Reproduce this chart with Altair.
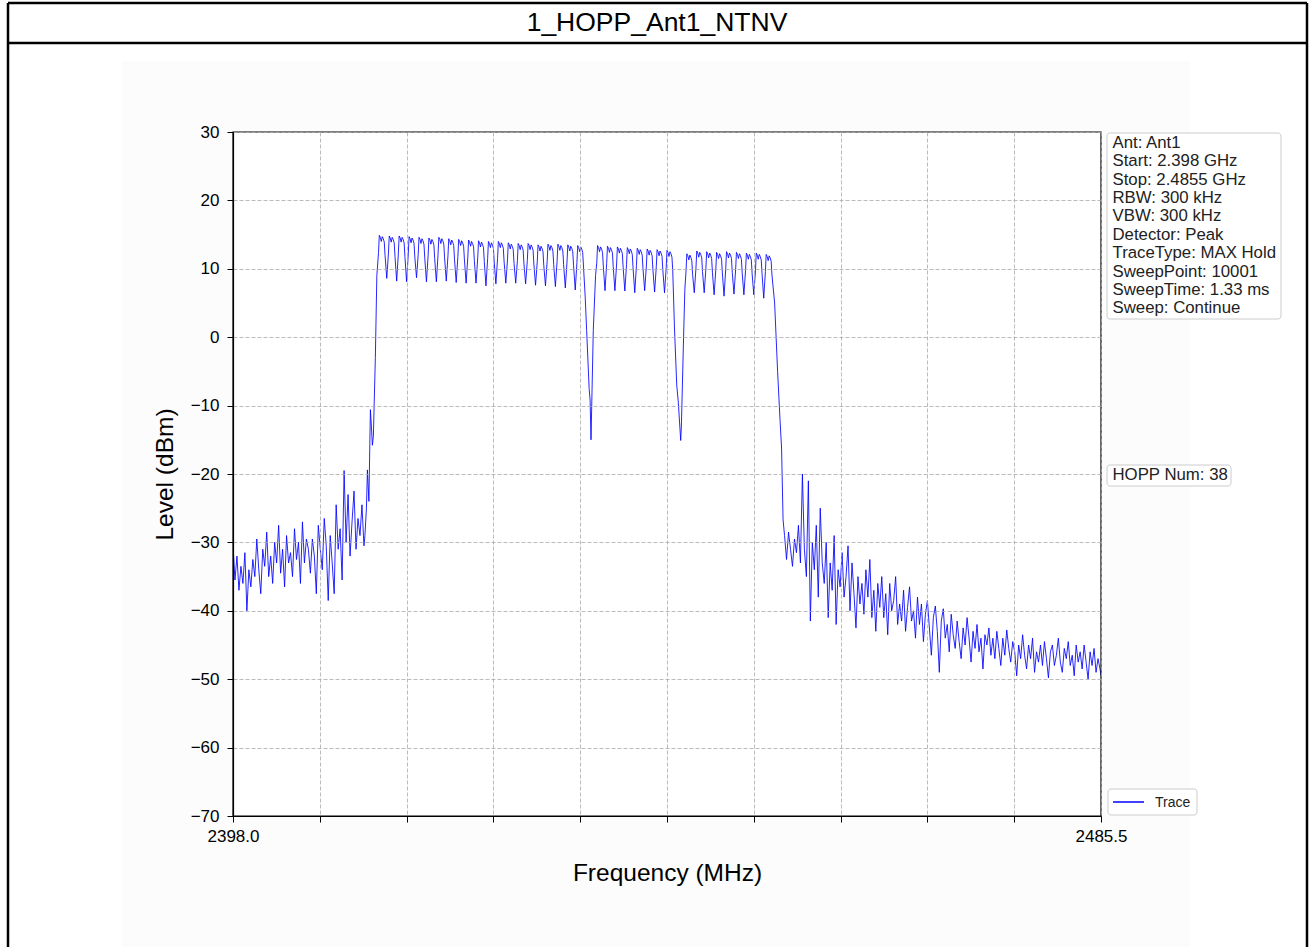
import altair as alt
import pandas as pd
import numpy as np

# ---------------- data ----------------
# occupied hopping channels (MHz), 3 blocks
block1 = [2413, 2414, 2415, 2416, 2417, 2418, 2419, 2420, 2421, 2422, 2423,
          2424, 2425, 2426, 2427, 2428, 2429, 2430, 2431, 2432, 2433]
block2 = [2435, 2436, 2437, 2438, 2439, 2440, 2441, 2442]
block3 = [2444, 2445, 2446, 2447, 2448, 2449, 2450, 2451, 2452]

peak1 = [14.9, 14.8, 14.8, 14.7, 14.6, 14.5, 14.6, 14.4, 14.3, 14.2, 14.1,
         14.0, 14.0, 13.8, 13.7, 13.7, 13.5, 13.6, 13.6, 13.5, 13.4]
peak2 = [13.4, 13.3, 13.2, 13.1, 13.0, 12.9, 12.8, 12.7]
peak3 = [12.2, 12.6, 12.5, 12.4, 12.5, 12.4, 12.3, 12.3, 12.1]

dip1 = [8.6, 8.2, 8.1, 8.7, 8.1, 8.1, 8.2, 8.0, 7.9, 7.9, 7.5, 7.8, 7.9, 7.9,
        7.8, 7.6, 7.5, 7.4, 7.2, 6.9]
dip2 = [6.8, 6.8, 6.75, 6.5, 6.8, 6.6, 6.5]
dip3 = [6.5, 6.5, 6.2, 6.0, 6.3, 6.2, 6.2, 5.7]

# shape of one channel top (offset MHz from centre, dB below peak)
top_off = [-0.33, -0.25, -0.15, -0.05, 0.05, 0.15, 0.25, 0.33]
top_drop = [2.5, 0.0, 0.3, 0.9, 0.2, 0.5, 1.0, 3.0]

# empty channels inside the band
gap1_f = [2433.5, 2433.65, 2433.9, 2434.0, 2434.09, 2434.32, 2434.55]
gap1_v = [6.0, 1.0, -7.5, -9.2, -15.0, 1.0, 9.0]
gap2_f = [2442.5, 2442.73, 2442.89, 2443.13, 2443.2, 2443.42, 2443.55]
gap2_v = [1.5, -7.0, -9.5, -15.1, -13.0, 0.0, 7.0]

# band edges
edgeL_f = [2411.3, 2411.45, 2411.55, 2411.7, 2411.85, 2411.95, 2412.05, 2412.15, 2412.35, 2412.5]
edgeL_v = [-29.0, -25.0, -19.4, -24.0, -10.6, -13.0, -15.8, -14.5, -3.0, 9.0]
edgeR_f = [2452.6, 2452.9, 2453.14, 2453.3, 2453.45]
edgeR_v = [5.0, -5.0, -12.0, -16.2, -26.7]

# noise floor below the band, 2398.0 .. 2411.2 MHz every 0.2 MHz
noiseL_start, noiseL_step = 2398.0, 0.2
noiseL = [-30.5, -35.5, -32, -37, -33.5, -36, -31.5, -40, -34, -36.5,
          -32.5, -35, -29.5, -34, -37.5, -31, -33.5, -28.5, -35, -32,
          -36, -30, -33, -27.5, -34.5, -31, -36.5, -29, -33, -31.5,
          -35, -28, -32.5, -30, -36, -27, -33, -29.5, -31, -34.5,
          -29.5, -32, -37.5, -27.5, -31, -34, -26.5, -30.5, -38.5, -29,
          -33, -37.5, -24.5, -31, -28, -35.5, -19.5, -30, -23, -32,
          -27, -22.5, -31, -26.5, -29, -24.5, -30.5]

# noise floor above the band, 2453.6 .. 2485.4 MHz every 0.2 MHz, then 2485.5
noiseR_start, noiseR_step = 2453.6, 0.2
noiseR = [-29, -32.5, -28.5, -31, -33.5, -29.5, -31.5, -27.5, -33, -20,
          -31, -35, -21, -41.5, -30, -34, -27.5, -38, -25, -33,
          -36, -30, -41, -33, -37, -29, -42, -34, -36.5, -31.5,
          -38, -35, -30.5, -40, -33, -37.5, -42.5, -35, -39, -36,
          -40.5, -34, -38, -32.5, -41, -37, -43, -36, -39.5, -35,
          -41, -37.5, -43.5, -36, -40, -38.5, -35, -42, -39, -41.5,
          -37, -43, -39.5, -36.5, -41.5, -40, -44, -38, -42, -39,
          -44.5, -40.5, -38.5, -42.5, -46.5, -41, -39.3, -43, -49, -41.5,
          -39.7, -44, -42, -46, -40.5, -43.5, -45.5, -41.5, -44.5, -47,
          -42.5, -45, -41, -44, -47.5, -43, -45.5, -42, -46, -44,
          -48.5, -43.5, -45, -42.5, -46.5, -44, -47, -43, -45.5, -48,
          -44, -46.5, -42.8, -45.5, -47.5, -44.5, -46, -49.5, -45, -47,
          -43.5, -46.5, -48.5, -45, -47, -44, -49, -46, -47.5, -45,
          -48, -44.5, -47, -49.8, -46, -45, -48, -46.5, -44, -47.5,
          -49, -45.5, -47, -44.5, -48, -46.5, -49.5, -45, -47.5, -46,
          -48.5, -45, -47.5, -50, -46, -48, -45.5, -49, -47, -48.5]
noiseR_end_f, noiseR_end_v = 2485.5, -49.5

x_ticks = [2398.0, 2406.75, 2415.5, 2424.25, 2433.0, 2441.75, 2450.5,
           2459.25, 2468.0, 2476.75, 2485.5]
y_ticks = [-70, -60, -50, -40, -30, -20, -10, 0, 10, 20, 30]

title_text = "1_HOPP_Ant1_NTNV"
info_lines = ["Ant: Ant1", "Start: 2.398 GHz", "Stop: 2.4855 GHz", "RBW: 300 kHz",
              "VBW: 300 kHz", "Detector: Peak", "TraceType: MAX Hold",
              "SweepPoint: 10001", "SweepTime: 1.33 ms", "Sweep: Continue"]
hopp_text = "HOPP Num: 38"
legend_text = "Trace"

# ---------------- build the trace table ----------------
pts = []
for i, v in enumerate(noiseL):
    pts.append((noiseL_start + i * noiseL_step, v))
pts += list(zip(edgeL_f, edgeL_v))


def add_block(chans, peaks, dips):
    for k, (c, p) in enumerate(zip(chans, peaks)):
        for o, d in zip(top_off, top_drop):
            pts.append((c + o, p - d))
        if k < len(dips):
            pts.append((c + 0.5, dips[k]))


add_block(block1, peak1, dip1)
pts += list(zip(gap1_f, gap1_v))
add_block(block2, peak2, dip2)
pts += list(zip(gap2_f, gap2_v))
add_block(block3, peak3, dip3)
pts += list(zip(edgeR_f, edgeR_v))
for i, v in enumerate(noiseR):
    pts.append((noiseR_start + i * noiseR_step, v))
pts.append((noiseR_end_f, noiseR_end_v))

trace = pd.DataFrame(pts, columns=["freq", "level"]).sort_values("freq")
trace["order"] = range(len(trace))
trace["series"] = legend_text

FONT = "Liberation Sans"
W, H = 868, 684
PL, PT = 233, 132

one = alt.Data(values=[{"a": 1}])

x_label_expr = "(datum.value == 2398 || datum.value == 2485.5) ? format(datum.value, '.1f') : ''"

line = alt.Chart(trace).mark_line(color="#0000ff", strokeWidth=0.85, clip=True).encode(
    x=alt.X("freq:Q",
            scale=alt.Scale(domain=[2398.0, 2485.5], nice=False, zero=False),
            axis=alt.Axis(values=x_ticks, labelExpr=x_label_expr, title="Frequency (MHz)",
                          grid=True, gridDash=[4, 2], gridColor="#aaaaaa", gridWidth=0.8,
                          tickSize=6, tickColor="black", tickWidth=1,
                          domainColor="black", domainWidth=1.2,
                          labelFont=FONT, labelFontSize=17, labelColor="black",
                          labelPadding=6, labelFlush=False, labelOverlap=False,
                          titleFont=FONT, titleFontSize=24.5, titleFontWeight="normal",
                          titleColor="black", titlePadding=17, zindex=1)),
    y=alt.Y("level:Q",
            scale=alt.Scale(domain=[-70, 30], nice=False, zero=False),
            axis=alt.Axis(values=y_ticks, format="d", title="Level (dBm)",
                          grid=True, gridDash=[4, 2], gridColor="#aaaaaa", gridWidth=0.8,
                          tickSize=6, tickColor="black", tickWidth=1,
                          domainColor="black", domainWidth=1.2,
                          labelFont=FONT, labelFontSize=17, labelColor="black",
                          labelPadding=8, labelOverlap=False,
                          titleFont=FONT, titleFontSize=24.5, titleFontWeight="normal",
                          titleColor="black", titlePadding=13, zindex=1)),
    order="order:Q",
)

# figure background (matplotlib figure area) -- behind everything
fig_bg = alt.Chart(one).mark_rect(fill="#fcfcfc", strokeWidth=0).encode(
    x=alt.value(122 - PL), x2=alt.value(1190 - PL),
    y=alt.value(61 - PT), y2=alt.value(960 - PT))
plot_bg = alt.Chart(one).mark_rect(fill="white", strokeWidth=0).encode(
    x=alt.value(0), x2=alt.value(W), y=alt.value(0), y2=alt.value(H))
plot_frame = alt.Chart(one).mark_rect(fillOpacity=0, stroke="black", strokeWidth=1.2).encode(
    x=alt.value(0), x2=alt.value(W), y=alt.value(0), y2=alt.value(H))

# outer table frame
frame_rules = []
for (x1, y1, x2, y2) in [(8, 3, 1307, 3), (8, 43, 1307, 43), (8, 3, 8, 960), (1307, 3, 1307, 960)]:
    frame_rules.append(alt.Chart(one).mark_rule(color="black", strokeWidth=2.5).encode(
        x=alt.value(x1 - PL), x2=alt.value(x2 - PL), y=alt.value(y1 - PT), y2=alt.value(y2 - PT)))

title = alt.Chart(one).mark_text(font=FONT, fontSize=26.5, color="black", align="center",
                                 baseline="middle").encode(
    x=alt.value(657 - PL), y=alt.value(23 - PT), text=alt.value(title_text))

# info box
info_box = alt.Chart(one).mark_rect(fill="white", stroke="#cccccc", strokeWidth=1,
                                    cornerRadius=3).encode(
    x=alt.value(1107 - PL), x2=alt.value(1281 - PL), y=alt.value(133 - PT), y2=alt.value(319 - PT))
info_text = alt.Chart(one).mark_text(font=FONT, fontSize=16.8, color="#222222", align="left",
                                     baseline="alphabetic", lineHeight=18.37).encode(
    x=alt.value(1112.5 - PL), y=alt.value(148 - PT), text=alt.value(info_lines))

hopp_box = alt.Chart(one).mark_rect(fill="white", stroke="#cccccc", strokeWidth=1,
                                    cornerRadius=3).encode(
    x=alt.value(1107 - PL), x2=alt.value(1231 - PL), y=alt.value(465 - PT), y2=alt.value(486 - PT))
hopp = alt.Chart(one).mark_text(font=FONT, fontSize=16.8, color="#222222", align="left",
                                baseline="alphabetic").encode(
    x=alt.value(1112.5 - PL), y=alt.value(480 - PT), text=alt.value(hopp_text))

leg_box = alt.Chart(one).mark_rect(fill="white", stroke="#cccccc", strokeWidth=1,
                                   cornerRadius=3).encode(
    x=alt.value(1108 - PL), x2=alt.value(1197 - PL), y=alt.value(789 - PT), y2=alt.value(815 - PT))
leg_line = alt.Chart(one).mark_rule(color="#0000ff", strokeWidth=1.5).encode(
    x=alt.value(1113 - PL), x2=alt.value(1144 - PL), y=alt.value(802 - PT), y2=alt.value(802 - PT))
leg_text = alt.Chart(one).mark_text(font=FONT, fontSize=14, color="#222222", align="left",
                                    baseline="alphabetic").encode(
    x=alt.value(1155 - PL), y=alt.value(807 - PT), text=alt.value(legend_text))

chart = alt.layer(
    fig_bg, plot_bg, line, plot_frame, *frame_rules, title,
    info_box, info_text, hopp_box, hopp, leg_box, leg_line, leg_text
).properties(
    width=W, height=H,
    autosize=alt.AutoSizeParams(type="none"),
    padding={"left": PL, "top": PT, "right": 1310 - PL - W, "bottom": 947 - PT - H},
    background="white",
).configure_view(stroke=None)

chart.save("out.html", embed_options={"renderer": "svg", "actions": False})
